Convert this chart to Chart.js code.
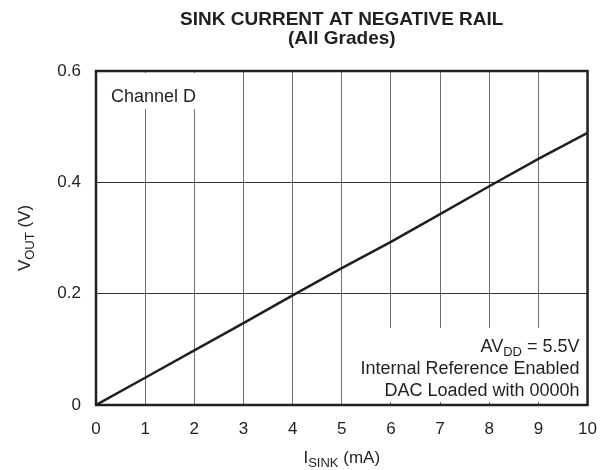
<!DOCTYPE html>
<html>
<head>
<meta charset="utf-8">
<script src="https://cdn.jsdelivr.net/npm/chart.js@4/dist/chart.umd.min.js"></script>
<style>
html,body{margin:0;padding:0;background:#fff;}
#wrap{width:611px;height:470px;position:relative;}
</style>
</head>
<body>
<div id="wrap"><canvas id="c"></canvas></div>
<script>
// ---- data ----
const isinkMA = [0, 1, 2, 3, 4, 5, 6, 7, 8, 9, 10];
const voutV = [0, 0.049, 0.098, 0.147, 0.197, 0.246, 0.293, 0.343, 0.393, 0.442, 0.489];
const xTickValues = [0, 1, 2, 3, 4, 5, 6, 7, 8, 9, 10];
const yTickValues = [0, 0.2, 0.4, 0.6];
const titleLines = ['SINK CURRENT AT NEGATIVE RAIL', '(All Grades)'];
const channelLabel = 'Channel D';
const noteLines = [
  [{t:'AV'},{t:'DD',sub:true},{t:' = 5.5V'}],
  [{t:'Internal Reference Enabled'}],
  [{t:'DAC Loaded with 0000h'}]
];
const xTitle = [{t:'I'},{t:'SINK',sub:true},{t:' (mA)'}];
const yTitle = [{t:'V'},{t:'OUT',sub:true},{t:' (V)'}];

const FONT = '"Liberation Sans", Arial, Helvetica, sans-serif';
const INK = '#231f20';
const TICK = 17;

function richWidth(ctx, parts, base, sub){
  let w = 0;
  for (const p of parts){ ctx.font = (p.sub?sub:base)+'px '+FONT; w += ctx.measureText(p.t).width; }
  return w;
}
function drawRich(ctx, parts, x, y, align, base, sub){
  const w = richWidth(ctx, parts, base, sub);
  let cx = align==='right' ? x - w : align==='center' ? x - w/2 : x;
  ctx.textBaseline = 'alphabetic';
  ctx.textAlign = 'left';
  for (const p of parts){
    ctx.font = (p.sub?sub:base)+'px '+FONT;
    ctx.fillText(p.t, cx, y + (p.sub?4:0));
    cx += ctx.measureText(p.t).width;
  }
}

const annotPlugin = {
  id: 'annot',
  beforeDatasetsDraw(chart){
    const ctx = chart.ctx, a = chart.chartArea;
    ctx.save();
    ctx.fillStyle = '#fff';
    ctx.fillRect(a.left + 8, a.top + 2, 112, 36);
    ctx.fillRect(a.right - 240, a.bottom - 77, 238, 74);
    ctx.fillStyle = INK;
    ctx.font = '18px '+FONT;
    ctx.textAlign = 'left'; ctx.textBaseline = 'middle';
    ctx.fillText(channelLabel, a.left + 15, a.top + 26);
    let y = a.bottom - 53;
    for (const line of noteLines){ drawRich(ctx, line, a.right - 8, y, 'right', 18, 13); y += 22; }
    ctx.restore();
  },
  afterDraw(chart){
    const ctx = chart.ctx, a = chart.chartArea;
    ctx.save();
    ctx.strokeStyle = INK; ctx.lineWidth = 2.5;
    ctx.strokeRect(a.left, a.top, a.right - a.left, a.bottom - a.top);
    ctx.fillStyle = INK;
    ctx.font = 'bold 19px ' + FONT;
    ctx.textAlign = 'center'; ctx.textBaseline = 'alphabetic';
    const cx = (a.left + a.right)/2;
    ctx.fillText(titleLines[0], cx, 25);
    ctx.fillText(titleLines[1], cx, 44);
    drawRich(ctx, xTitle, cx, 463, 'center', 17, 13);
    ctx.translate(30, (a.top + a.bottom)/2);
    ctx.rotate(-Math.PI/2);
    drawRich(ctx, yTitle, 0, 0, 'center', 17, 13);
    ctx.restore();
  }
};

new Chart(document.getElementById('c'), {
  type: 'line',
  data: {
    datasets: [{
      data: isinkMA.map((x,i)=>({x, y: voutV[i]})),
      borderColor: INK,
      borderWidth: 2.5,
      pointRadius: 0,
      tension: 0,
      fill: false
    }]
  },
  options: {
    responsive: true,
    maintainAspectRatio: false,
    animation: false,
    devicePixelRatio: 1,
    layout: { padding: { left: 0, right: 21, top: 71, bottom: 0 } },
    plugins: { legend: { display: false }, tooltip: { enabled: false }, title: { display: false } },
    scales: {
      x: {
        type: 'linear', min: 0, max: 10,
        afterFit(s){ s.height = 65; },
        afterBuildTicks(s){ s.ticks = xTickValues.map(v=>({value:v})); },
        ticks: { color: INK, font: { family: FONT, size: TICK }, padding: 14, maxRotation: 0,
                 callback: v => String(v) },
        grid: { color: '#6d6d6d', lineWidth: 1, drawTicks: false },
        border: { display: false }
      },
      y: {
        type: 'linear', min: 0, max: 0.6,
        afterFit(s){ s.width = 96; },
        afterBuildTicks(s){ s.ticks = yTickValues.map(v=>({value:v})); },
        ticks: { color: INK, font: { family: FONT, size: TICK }, padding: 15,
                 callback: v => v === 0 ? '0' : v.toFixed(1) },
        grid: { color: '#333', lineWidth: 1, drawTicks: false },
        border: { display: false }
      }
    }
  },
  plugins: [annotPlugin]
});
</script>
</body>
</html>
